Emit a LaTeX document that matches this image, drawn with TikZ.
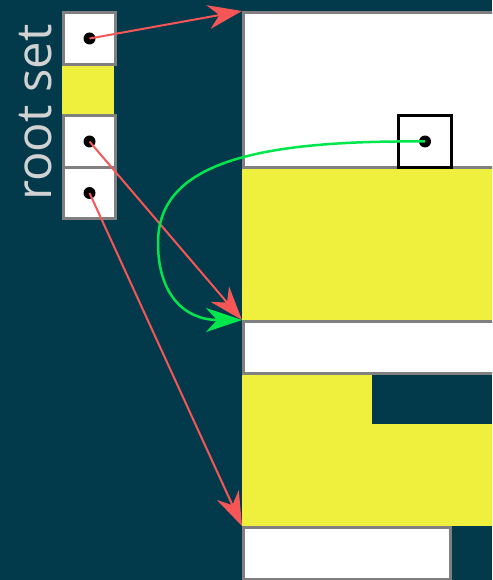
\documentclass[tikz,border=0pt]{standalone}
\usepackage{fontspec}
\setmainfont{Open Sans}
\usetikzlibrary{arrows.meta}
\definecolor{bg}{HTML}{023A4B}
\definecolor{yel}{HTML}{EFEF3E}
\definecolor{redar}{HTML}{F75656}
\definecolor{grn}{HTML}{00E64D}
\definecolor{bord}{HTML}{808080}
\definecolor{lbl}{HTML}{D2D2D2}
\tikzset{
  whitecell/.style={draw=bord, line width=3pt, fill=white, inner sep=0pt, rectangle},
  yellowcell/.style={fill=yel, inner sep=0pt, rectangle},
  ptr/.style={fill=black, circle, inner sep=0pt, minimum size=12pt},
  redarrow/.style={draw=redar, line width=2pt, -{Stealth[length=34pt,width=24pt,inset=11pt]}},
  greenarrow/.style={draw=grn, line width=2.5pt, -{Stealth[length=36pt,width=24pt,inset=11pt]}},
}
\begin{document}
\begin{tikzpicture}[x=1pt,y=-1pt]
\fill[bg] (0,0) rectangle (492,580);
\useasboundingbox (0,0) rectangle (492,580);
\begin{scope}
\clip (0,0) rectangle (492,580);
% heap yellow blocks
\node[yellowcell, minimum width=280pt, minimum height=154pt, anchor=north west] (h2) at (242,166) {};
\node[yellowcell, minimum width=130pt, minimum height=52pt, anchor=north west] (h4) at (242,372) {};
\node[yellowcell, minimum width=280pt, minimum height=102pt, anchor=north west] (h5) at (242,424) {};
% heap white blocks
\node[whitecell, minimum width=290pt, minimum height=155pt, anchor=north west] (h1) at (242,11) {};
\node[whitecell, minimum width=290pt, minimum height=52pt, anchor=north west] (h3) at (242,320) {};
\node[whitecell, minimum width=207pt, minimum height=52pt, anchor=north west] (h6) at (242,526) {};
% object with pointer
\node[draw=black, line width=3pt, fill=white, inner sep=0pt, minimum width=53pt, minimum height=52pt, anchor=north west] (obj) at (397,114) {};
\node[ptr] (objp) at (obj.center) {};
\end{scope}
% root set
\node[yellowcell, minimum width=52pt, minimum height=51pt, anchor=north west] (r2) at (62,63) {};
\node[whitecell, minimum width=52pt, minimum height=52pt, anchor=north west] (r1) at (62,11) {};
\node[whitecell, minimum width=52pt, minimum height=52pt, anchor=north west] (r3) at (62,114) {};
\node[whitecell, minimum width=52pt, minimum height=51pt, anchor=north west] (r4) at (62,166) {};
\node[ptr] (p1) at (r1.center) {};
\node[ptr] (p3) at (r3.center) {};
\node[ptr] (p4) at (r4.center) {};
\node[text=lbl, font=\fontsize{49}{49}\selectfont, rotate=90, anchor=base, inner sep=0pt] (lab) at (51,112.5) {root set};
% pointers
\draw[redarrow] (p1.center) -- (h1.north west);
\draw[redarrow] (p3.center) -- (h3.north west);
\draw[redarrow] (p4.center) -- (h6.north west);
\coordinate (gmid) at (158,243);
\draw[greenarrow] (objp.center) .. controls (250,140) and (158,165) .. (gmid)
  .. controls (158,295) and (185,320) .. (h3.north west);
\end{tikzpicture}
\end{document}
